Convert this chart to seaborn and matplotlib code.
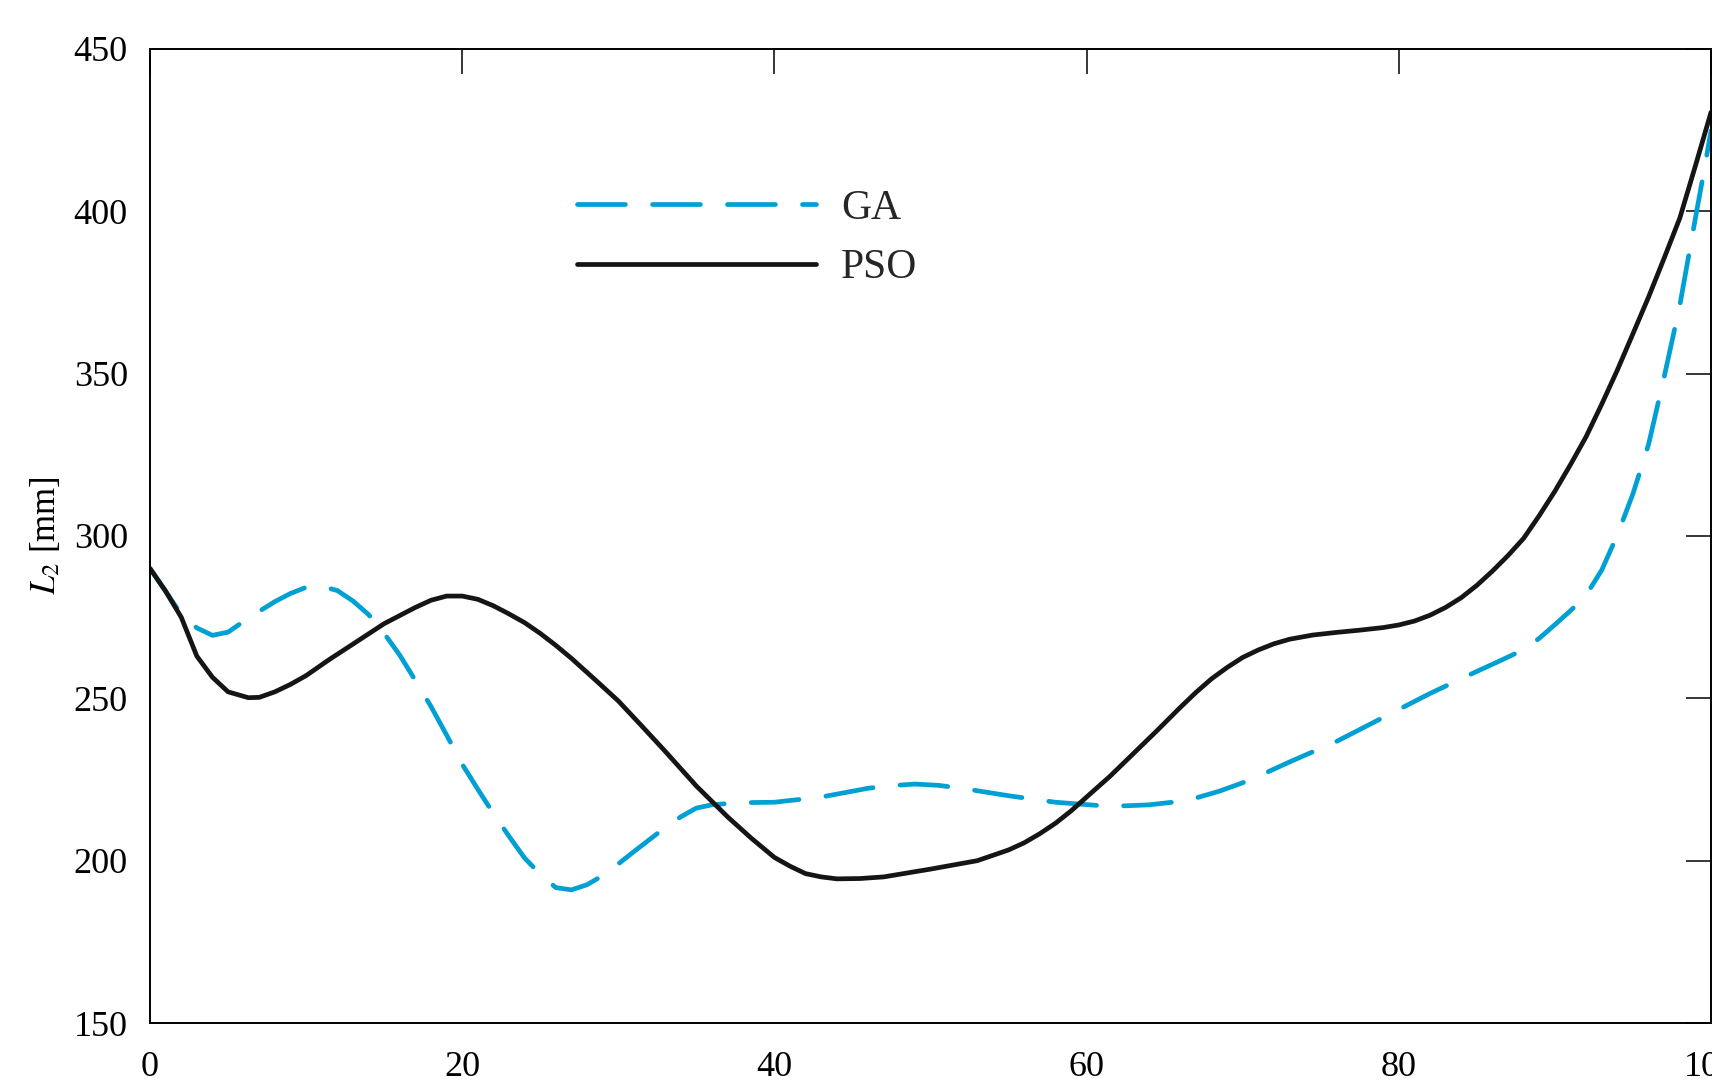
import matplotlib
matplotlib.use("Agg")
import matplotlib.pyplot as plt
import seaborn as sns
import pandas as pd

# ---- data ----
pso_x = [0, 1, 2, 3, 4, 5, 6.3, 7, 8, 9, 10, 11.5, 13, 15, 17, 18, 19, 20, 21, 22, 23,
         24, 25, 26, 27, 28.5, 30, 31.5, 33, 35, 37, 38.5, 40, 41, 42, 43, 44, 45.5, 47,
         50, 53, 55, 56, 57, 58, 59, 60, 61.5, 63, 64.5, 66, 67, 68, 69, 70, 71, 72, 73,
         74.5, 76, 77.5, 79, 80, 81, 82, 83, 84, 85, 86, 87, 88, 89, 90, 91, 92, 93, 94,
         95, 96, 97, 98, 99, 100]
pso_y = [290, 283, 275, 263, 256.5, 252, 250.2, 250.3, 252, 254.3, 257, 262, 266.7, 273,
         278, 280.2, 281.5, 281.5, 280.5, 278.5, 276, 273.3, 270, 266.3, 262.3, 255.8,
         249.2, 241.5, 233.7, 223, 213.5, 207, 201, 198.3, 196, 195, 194.4, 194.5, 195,
         197.4, 200, 203.3, 205.5, 208.3, 211.5, 215.3, 219.6, 226, 233, 240, 247.2,
         251.8, 256, 259.5, 262.6, 264.9, 266.8, 268.2, 269.5, 270.3, 271, 271.8, 272.6,
         273.8, 275.6, 278, 281, 284.8, 289.2, 294, 299.3, 306.3, 313.8, 322, 330.6,
         340.6, 351.1, 362.3, 373.6, 385.6, 397.9, 414, 430.5]

ga_x = [0, 1, 2, 3, 4, 5, 6, 7, 8, 9, 10, 11, 12, 13, 14, 15, 16, 17, 18, 19, 20, 21, 22,
        23, 24, 25, 26, 27, 28, 29, 30, 31, 32, 33, 34, 35, 36, 37, 38.5, 40, 43, 46,
        47.5, 49, 50.5, 52, 55, 58, 61, 62.5, 64, 65.5, 67, 68.5, 70, 71.5, 73, 76, 79,
        82, 85, 86.5, 88, 89, 90, 91, 92, 93, 94, 95, 96, 97, 98, 99, 99.5, 100]
ga_y = [290, 283, 275.8, 271.7, 269.4, 270.4, 273.7, 276.8, 279.8, 282.3, 284.2, 284.5,
        283.2, 280, 275.8, 270, 263.3, 255.5, 247.5, 238.7, 229.7, 222, 214.5, 207.5,
        200.8, 195.8, 191.7, 191, 192.6, 195.4, 199, 202.8, 206.5, 210.2, 213.5, 216.2,
        217.2, 217.6, 217.9, 218, 219.6, 222.3, 223.1, 223.6, 223.2, 222.3, 220, 218,
        216.9, 216.9, 217.2, 218, 219.3, 221.4, 224, 227.1, 230.4, 236.7, 244.1, 251.5,
        258.3, 261.6, 265, 268.5, 272.7, 277, 281.8, 289.5, 300.3, 313, 328.2, 349, 371,
        397.9, 411, 424.8]

methods = ["GA", "PSO"]
x_ticks = [0, 20, 40, 60, 80, 100]
y_ticks = [150, 200, 250, 300, 350, 400, 450]

df = pd.concat([
    pd.DataFrame({"x": ga_x, "y": ga_y, "method": "GA"}),
    pd.DataFrame({"x": pso_x, "y": pso_y, "method": "PSO"}),
], ignore_index=True)

# ---- style ----
sns.set_theme(style="white")
plt.rcParams["font.family"] = ["Liberation Serif", "DejaVu Serif"]
plt.rcParams["mathtext.fontset"] = "stix"
plt.rcParams["lines.scale_dashes"] = False

fig = plt.figure(figsize=(17.12, 10.92), dpi=100)
ax = fig.add_axes([150 / 1712, 1 - 1023 / 1092, 1561 / 1712, 974 / 1092])

palette = {"GA": "#00A0D4", "PSO": "#151515"}
dashes = {"GA": (34.5, 19.5), "PSO": ""}

sns.lineplot(data=df, x="x", y="y", hue="method", style="method",
             hue_order=methods, style_order=methods,
             palette=palette, dashes=dashes, linewidth=3.4,
             dash_capstyle="round", solid_capstyle="round",
             dash_joinstyle="round", solid_joinstyle="round",
             sort=False, estimator=None, legend=False, ax=ax)

ax.set_xlim(0, 100)
ax.set_ylim(150, 450)
ax.set_xticks(x_ticks)
ax.set_yticks(y_ticks)
ax.tick_params(axis="both", which="both", direction="in", length=18, width=1.1,
               top=True, right=True, labelsize=26, colors="black", pad=16)
ax.tick_params(axis="x", pad=20)
for s in ax.spines.values():
    s.set_visible(True)
    s.set_color("black")
    s.set_linewidth(1.4)
ax.set_xlabel("")
ax.set_ylabel(r"$L_2$ [mm]", fontsize=25, labelpad=8, color="black")

lines = ax.get_lines()
leg = ax.legend(lines[:2], methods, loc="upper left",
                bbox_to_anchor=(0.2736, 0.856), frameon=False, fontsize=30,
                handlelength=5.73, handletextpad=0.6, labelspacing=0.5,
                borderpad=0, borderaxespad=0)

fig.savefig("out.png", dpi=100)
